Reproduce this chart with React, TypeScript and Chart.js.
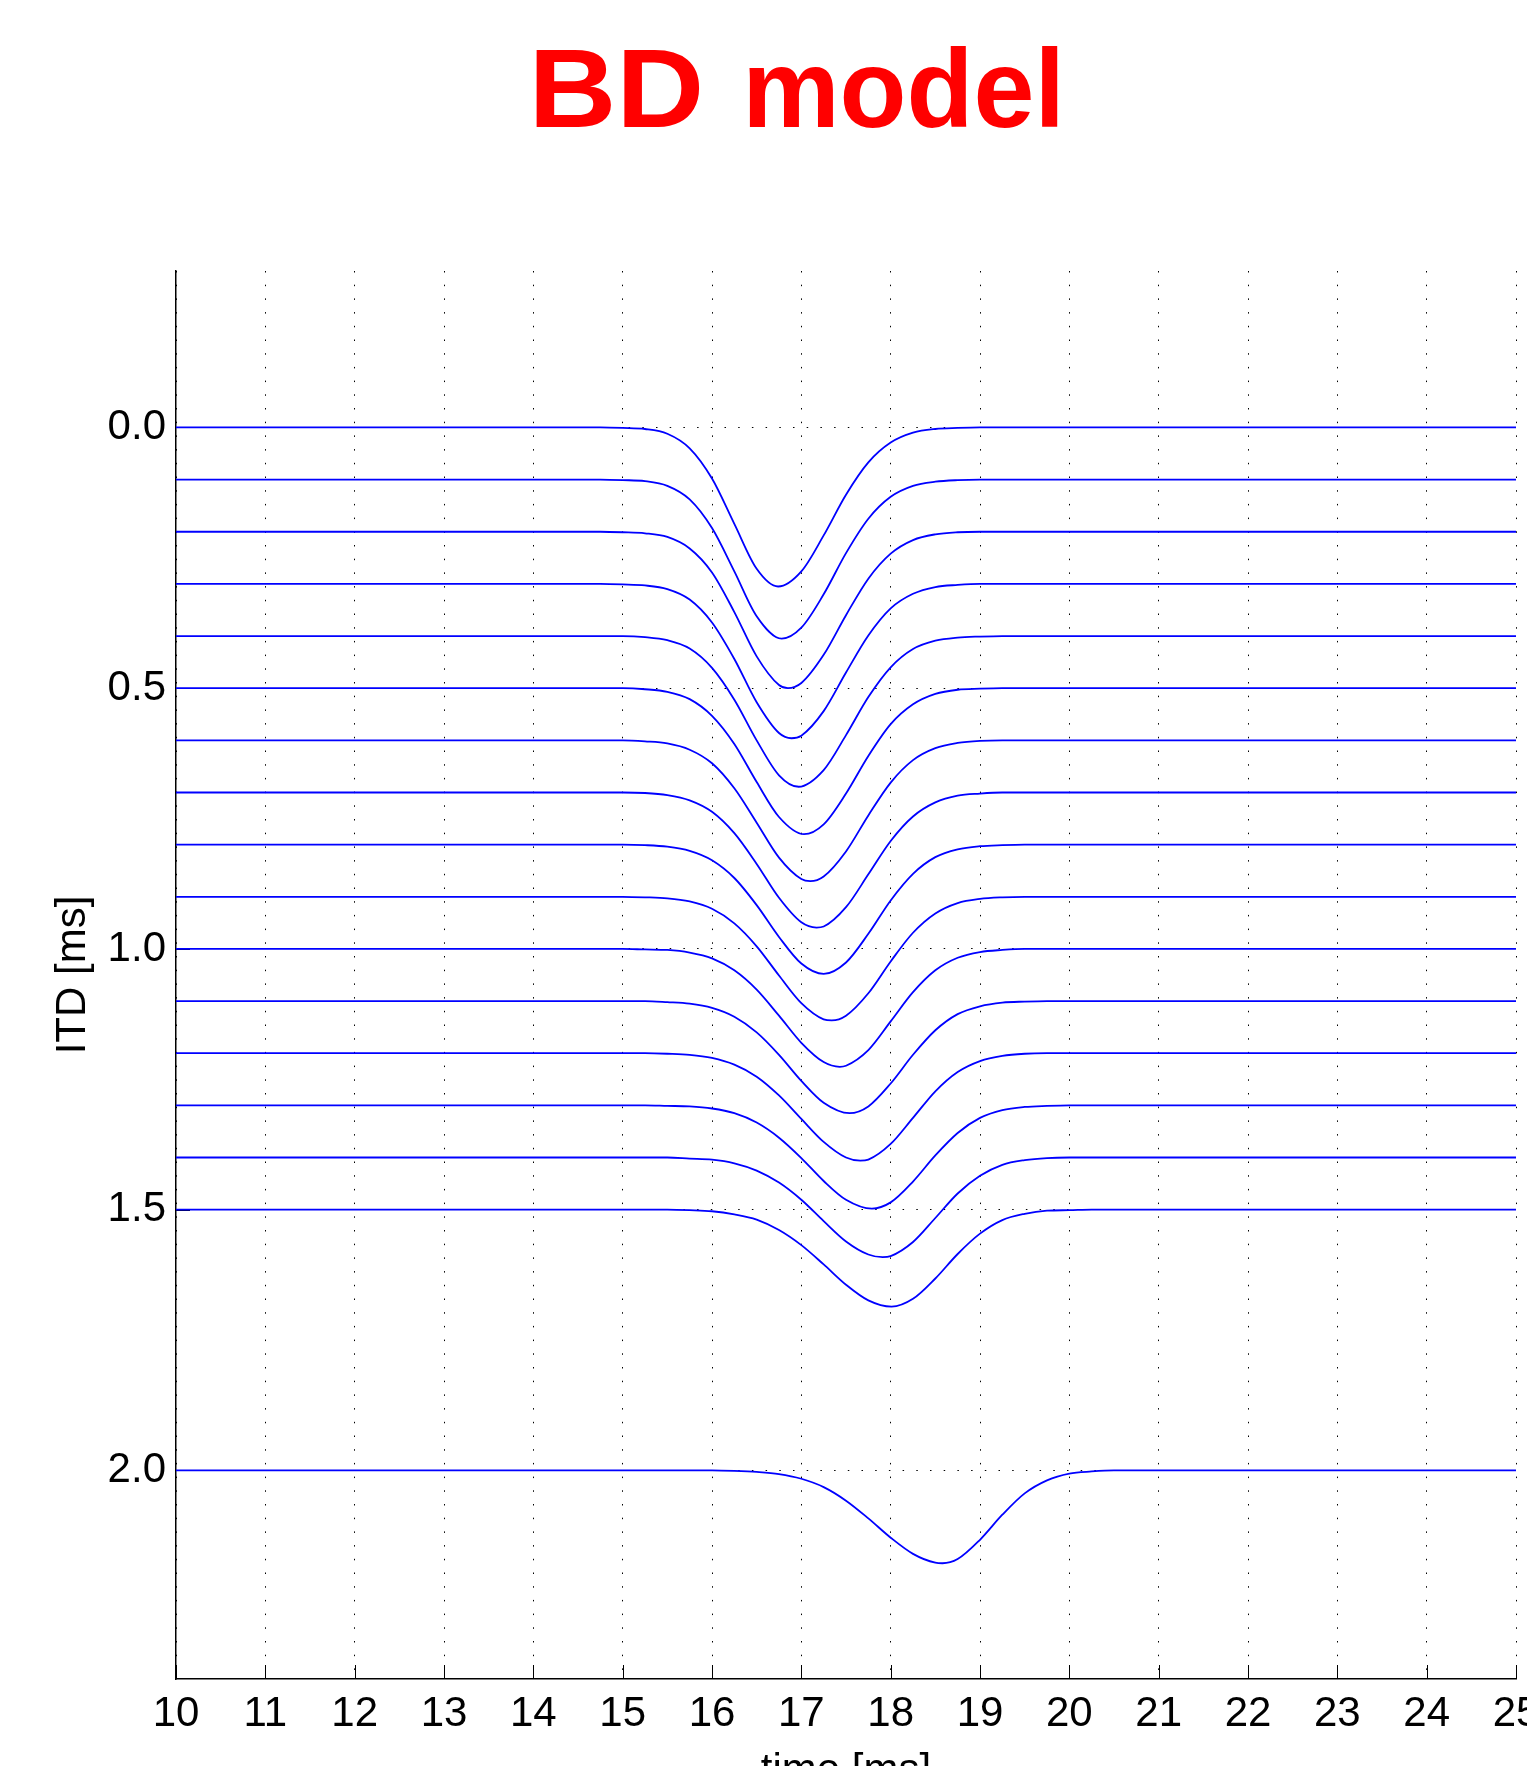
import React, { useEffect, useRef } from "react";
import { Chart, registerables } from "chart.js";

Chart.register(...registerables);

// ---------------- data ----------------
const TITLE_WORDS = ["BD", "model"];
const X_TITLE = "time [ms]";
const Y_TITLE = "ITD [ms]";

const X_TICKS = [10, 11, 12, 13, 14, 15, 16, 17, 18, 19, 20, 21, 22, 23, 24, 25];
const Y_TICKS = [0, 0.5, 1.0, 1.5, 2.0];

// baseline (ITD) of each trace
const ITD_VALUES = [0, 0.1, 0.2, 0.3, 0.4, 0.5, 0.6, 0.7, 0.8, 0.9, 1.0, 1.1, 1.2, 1.3, 1.4, 1.5, 2.0];

// time samples where the dip of each trace was read
const TIME_GRID = [
  14.75, 15, 15.25, 15.5, 15.75, 16, 16.25, 16.5, 16.75, 17, 17.25, 17.5, 17.75,
  18, 18.25, 18.5, 18.75, 19, 19.25, 19.5, 19.75, 20, 20.25, 20.5, 20.75, 21,
];

// downward dip (ms below the baseline) read at TIME_GRID
const DIP_00 = [0, .001, .003, .012, .040, .098, .185, .271, .305, .276, .207, .129, .067, .029, .010, .003, .001, 0, 0, 0, 0, 0, 0, 0, 0, 0];
const DIP_01 = [0, .001, .003, .012, .038, .093, .176, .262, .305, .284, .220, .141, .075, .033, .012, .004, .001, 0, 0, 0, 0, 0, 0, 0, 0, 0];
const DIP_02 = [0, .001, .003, .010, .032, .078, .154, .239, .294, .290, .236, .160, .090, .042, .016, .005, .001, 0, 0, 0, 0, 0, 0, 0, 0, 0];
const DIP_03 = [0, .001, .003, .010, .030, .074, .144, .227, .286, .291, .244, .170, .099, .047, .019, .006, .002, 0, 0, 0, 0, 0, 0, 0, 0, 0];
const DIP_04 = [0, 0, .002, .008, .024, .061, .122, .200, .267, .289, .257, .190, .117, .060, .025, .009, .003, .001, 0, 0, 0, 0, 0, 0, 0, 0];
const DIP_05 = [0, 0, .002, .007, .021, .053, .107, .180, .247, .280, .261, .202, .130, .069, .031, .011, .003, .001, 0, 0, 0, 0, 0, 0, 0, 0];
const DIP_06 = [0, 0, .002, .006, .018, .044, .092, .158, .225, .266, .261, .213, .144, .081, .038, .015, .005, .001, 0, 0, 0, 0, 0, 0, 0, 0];
const DIP_07 = [0, 0, .001, .005, .015, .037, .078, .137, .202, .249, .257, .220, .157, .093, .046, .019, .006, .002, 0, 0, 0, 0, 0, 0, 0, 0];
const DIP_08 = [0, 0, .001, .004, .012, .030, .064, .116, .177, .228, .248, .226, .171, .107, .056, .024, .009, .003, .001, 0, 0, 0, 0, 0, 0, 0];
const DIP_09 = [0, 0, .001, .003, .009, .023, .051, .095, .151, .204, .235, .228, .185, .124, .069, .032, .012, .004, .001, 0, 0, 0, 0, 0, 0, 0];
const DIP_10 = [0, 0, .001, .002, .007, .018, .041, .078, .128, .180, .217, .224, .194, .139, .083, .041, .017, .006, .002, 0, 0, 0, 0, 0, 0, 0];
const DIP_11 = [0, 0, 0, .002, .005, .013, .030, .060, .103, .153, .195, .215, .202, .158, .103, .056, .025, .010, .003, .001, 0, 0, 0, 0, 0, 0];
const DIP_12 = [0, 0, 0, .001, .003, .009, .022, .045, .081, .126, .170, .200, .204, .174, .124, .073, .036, .015, .005, .001, 0, 0, 0, 0, 0, 0];
const DIP_13 = [0, 0, 0, .001, .002, .006, .015, .033, .062, .101, .145, .181, .198, .186, .146, .096, .053, .024, .009, .003, .001, 0, 0, 0, 0, 0];
const DIP_14 = [0, 0, 0, 0, .002, .004, .011, .025, .048, .081, .122, .161, .186, .189, .162, .116, .069, .035, .014, .005, .001, 0, 0, 0, 0, 0];
const DIP_15 = [0, 0, 0, 0, .001, .003, .009, .019, .039, .068, .105, .144, .174, .186, .171, .132, .085, .046, .020, .008, .002, .001, 0, 0, 0, 0];
const DIP_20 = [0, 0, 0, 0, 0, 0, .001, .003, .007, .016, .032, .058, .092, .129, .160, .177, .170, .133, .085, .044, .019, .006, .002, 0, 0, 0];

const DIPS = [DIP_00, DIP_01, DIP_02, DIP_03, DIP_04, DIP_05, DIP_06, DIP_07, DIP_08, DIP_09, DIP_10, DIP_11, DIP_12, DIP_13, DIP_14, DIP_15, DIP_20];

// position and depth of the bottom of each dip
const MIN_TIME = [16.74, 16.78, 16.85, 16.89, 16.97, 17.03, 17.10, 17.17, 17.25, 17.34, 17.43, 17.54, 17.66, 17.79, 17.91, 18.01, 18.58];
const MIN_DEPTH = [0.305, 0.305, 0.300, 0.296, 0.289, 0.280, 0.270, 0.259, 0.248, 0.237, 0.226, 0.215, 0.206, 0.198, 0.191, 0.186, 0.178];

// ---------------- chart ----------------
const FONT = '"Liberation Sans", Arial, Helvetica, sans-serif';

function buildPoints(k: number) {
  const base = ITD_VALUES[k];
  const pts: { x: number; y: number }[] = [{ x: X_TICKS[0], y: base }];
  TIME_GRID.forEach((t, i) => {
    if (Math.abs(t - MIN_TIME[k]) > 0.05) pts.push({ x: t, y: base + DIPS[k][i] });
  });
  pts.push({ x: MIN_TIME[k], y: base + MIN_DEPTH[k] });
  pts.push({ x: X_TICKS[X_TICKS.length - 1], y: base });
  pts.sort((a, b) => a.x - b.x);
  return pts;
}

// ink boxes (left, right) of the two title words, and the title baseline
const TITLE_BOXES = [
  [536, 700],
  [749, 1058],
];
const TITLE_BASELINE = 127;

const decorPlugin = {
  id: "decor",
  beforeDatasetsDraw(chart: any) {
    const { ctx, chartArea, scales } = chart;
    ctx.save();
    ctx.strokeStyle = "#000";
    ctx.lineWidth = 1;
    ctx.beginPath();
    X_TICKS.forEach((v) => {
      const px = Math.round(scales.x.getPixelForValue(v)) + 0.5;
      ctx.moveTo(px, chartArea.bottom);
      ctx.lineTo(px, chartArea.bottom - 14);
    });
    Y_TICKS.forEach((v) => {
      const py = Math.round(scales.y.getPixelForValue(v)) + 0.5;
      ctx.moveTo(chartArea.left, py);
      ctx.lineTo(chartArea.left + 14, py);
    });
    ctx.stroke();
    ctx.restore();
  },
  afterDraw(chart: any) {
    const { ctx, chartArea } = chart;
    // main title, word by word
    TITLE_WORDS.forEach((word, i) => {
      ctx.save();
      ctx.font = `bold 112px ${FONT}`;
      ctx.fillStyle = "#ff0000";
      ctx.textAlign = "left";
      ctx.textBaseline = "alphabetic";
      const m = ctx.measureText(word);
      const ink = m.actualBoundingBoxLeft + m.actualBoundingBoxRight;
      const [l, r] = TITLE_BOXES[i];
      const sx = (r - l) / ink;
      ctx.translate(l, TITLE_BASELINE);
      ctx.scale(sx, 1);
      ctx.fillText(word, m.actualBoundingBoxLeft, 0);
      ctx.restore();
    });

    ctx.save();
    ctx.fillStyle = "#000";
    ctx.font = `42px ${FONT}`;
    ctx.textAlign = "center";
    ctx.textBaseline = "alphabetic";
    ctx.fillText(X_TITLE, (chartArea.left + chartArea.right) / 2, 1783);
    ctx.translate(85, (chartArea.top + chartArea.bottom) / 2);
    ctx.rotate(-Math.PI / 2);
    ctx.fillText(Y_TITLE, 0, 0);
    ctx.restore();
  },
};

export default function App() {
  const ref = useRef<HTMLCanvasElement | null>(null);

  useEffect(() => {
    document.body.style.margin = "0";
    const canvas = ref.current;
    if (!canvas) return;
    const datasets = ITD_VALUES.map((itd, k) => ({
      label: `ITD ${itd.toFixed(1)}`,
      data: buildPoints(k),
      borderColor: "rgb(0,0,255)",
      borderWidth: 1.8,
      pointRadius: 0,
      fill: false,
      cubicInterpolationMode: "monotone" as const,
    }));

    const chart = new Chart(canvas, {
      type: "line",
      data: { datasets },
      options: {
        animation: false,
        responsive: false,
        maintainAspectRatio: false,
        layout: { padding: { top: 271, right: 11, left: 0, bottom: 0 } },
        plugins: {
          legend: { display: false },
          tooltip: { enabled: false },
          title: { display: false },
        },
        scales: {
          x: {
            type: "linear",
            min: X_TICKS[0],
            max: X_TICKS[X_TICKS.length - 1],
            afterBuildTicks: (scale: any) => {
              scale.ticks = X_TICKS.map((v) => ({ value: v }));
            },
            afterFit: (scale: any) => {
              scale.height = 87;
              scale.paddingLeft = 0;
              scale.paddingRight = 0;
            },
            ticks: {
              autoSkip: false,
              maxRotation: 0,
              minRotation: 0,
              padding: 10,
              color: "#000",
              font: { family: FONT, size: 42 },
              callback: (v: any) => String(v),
            },
            grid: {
              color: "#000",
              lineWidth: 1,
              drawTicks: false,
              drawOnChartArea: true,
            },
            border: { display: true, color: "#000", width: 1.5, dash: [1.5, 12.2] },
          },
          y: {
            type: "linear",
            reverse: true,
            min: -0.3,
            max: 2.4,
            afterBuildTicks: (scale: any) => {
              scale.ticks = Y_TICKS.map((v) => ({ value: v }));
            },
            afterFit: (scale: any) => {
              scale.width = 176;
              scale.paddingTop = 0;
              scale.paddingBottom = 0;
            },
            ticks: {
              padding: 10,
              color: "#000",
              font: { family: FONT, size: 42 },
              callback: (v: any) => Number(v).toFixed(1),
            },
            grid: {
              color: "#000",
              lineWidth: 1,
              drawTicks: false,
              drawOnChartArea: true,
            },
            border: { display: true, color: "#000", width: 1.5, dash: [1.5, 12.2] },
          },
        },
      },
      plugins: [decorPlugin],
    });

    return () => chart.destroy();
  }, []);

  return (
    <canvas
      ref={ref}
      width={1527}
      height={1766}
      style={{ display: "block", width: 1527, height: 1766 }}
    />
  );
}
